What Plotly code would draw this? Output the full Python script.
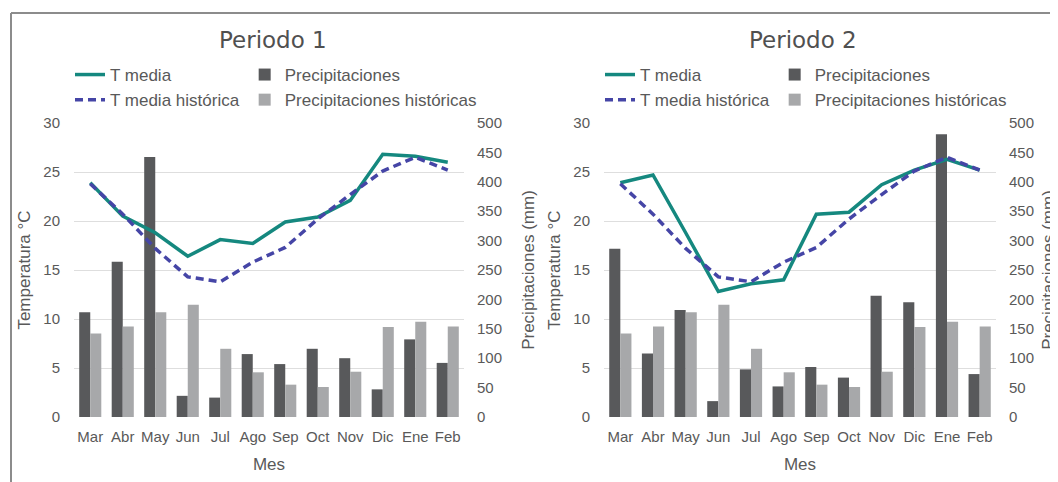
import plotly.graph_objects as go

# Datos
meses = ["Mar", "Abr", "May", "Jun", "Jul", "Ago", "Sep", "Oct", "Nov", "Dic", "Ene", "Feb"]

t_media_p1 = [23.9, 20.5, 18.8, 16.4, 18.1, 17.7, 19.9, 20.4, 22.1, 26.8, 26.6, 26.0]
t_media_p2 = [23.9, 24.7, 18.8, 12.8, 13.6, 14.0, 20.7, 20.9, 23.7, 25.2, 26.3, 25.2]
t_hist = [23.8, 20.7, 17.2, 14.3, 13.8, 15.8, 17.3, 20.2, 22.7, 25.1, 26.5, 25.2]

prec_p1 = [178, 264, 442, 36, 33, 107, 90, 116, 100, 47, 132, 92]
prec_p2 = [286, 108, 182, 27, 81, 52, 85, 67, 206, 195, 481, 73]
prec_hist = [142, 154, 178, 191, 116, 76, 55, 51, 77, 153, 162, 154]

titulos = ["Periodo 1", "Periodo 2"]

# the page body has an 8px margin, so the figure is 8px smaller and positions are shifted
OFF = 8
W, H = 1058 - OFF, 482 - OFF
L, T = 74 - OFF, 123 - OFF
R = W - (996 - OFF)
B = H - (417 - OFF)
pw = W - L - R
ph = H - T - B


def px_x(p):
    # page pixel -> paper x
    return (p - OFF - L) / pw


def px_y(p):
    # page pixel -> paper y
    return (H - B - (p - OFF)) / ph


TEAL = "#15887f"
AZUL = "#4545a6"
OSCURO = "#58595b"
CLARO = "#a7a8aa"
TXT = "#595959"
FONT = "Liberation Sans, Arial, sans-serif"

fig = go.Figure()

paneles = [
    (t_media_p1, prec_p1, "x", "y", "y2", "legend"),
    (t_media_p2, prec_p2, "x2", "y3", "y4", "legend2"),
]

for i, (tm, pr, xa, ya_p, ya_t, leg) in enumerate(paneles):
    fig.add_trace(go.Scatter(x=meses, y=tm, name="T media", mode="lines",
                             line=dict(color=TEAL, width=3.5),
                             xaxis=xa, yaxis=ya_t, legend=leg, legendgroup=f"t{i}"))
    fig.add_trace(go.Scatter(x=meses, y=t_hist, name="T media histórica", mode="lines",
                             line=dict(color=AZUL, width=3.5, dash="8px,5px"),
                             xaxis=xa, yaxis=ya_t, legend=leg, legendgroup=f"t{i}"))
    fig.add_trace(go.Bar(x=meses, y=pr, name="Precipitaciones", marker_color=OSCURO,
                         xaxis=xa, yaxis=ya_p, legend=leg, legendgroup=f"p{i}"))
    fig.add_trace(go.Bar(x=meses, y=prec_hist, name="Precipitaciones históricas",
                         marker_color=CLARO,
                         xaxis=xa, yaxis=ya_p, legend=leg, legendgroup=f"p{i}"))

eje_x = dict(showgrid=False, zeroline=False, showline=False, ticks="",
             tickfont=dict(size=15, color=TXT), ticklabelstandoff=9,
             title=dict(text="Mes", font=dict(size=17, color=TXT), standoff=14))
eje_t = dict(range=[0, 30], dtick=5, side="left", showgrid=True, gridcolor="#dedede",
             gridwidth=1, zeroline=False, showline=False, ticks="",
             tickfont=dict(size=15, color=TXT), ticklabelstandoff=13,
             title=dict(text="Temperatura °C", font=dict(size=17, color=TXT), standoff=8))
eje_p = dict(range=[0, 500], dtick=50, side="right", showgrid=False, zeroline=False,
             showline=False, ticks="", tickfont=dict(size=15, color=TXT),
             ticklabelstandoff=12,
             title=dict(text="Precipitaciones (mm)", font=dict(size=17, color=TXT), standoff=21))

fig.update_layout(
    width=W, height=H,
    template="none",
    paper_bgcolor="#fff", plot_bgcolor="#fff",
    font=dict(family=FONT, color=TXT),
    margin=dict(l=L, r=R, t=T, b=B),
    barmode="group", bargap=0.32, bargroupgap=0,
    showlegend=True,
    xaxis=dict(eje_x, domain=[0, px_x(464)], anchor="y"),
    yaxis=dict(eje_p, anchor="x"),
    yaxis2=dict(eje_t, overlaying="y", anchor="x"),
    xaxis2=dict(eje_x, domain=[px_x(604), 1], anchor="y3"),
    yaxis3=dict(eje_p, anchor="x2"),
    yaxis4=dict(eje_t, overlaying="y3", anchor="x2"),
    legend=dict(orientation="h", traceorder="grouped", x=px_x(70), y=px_y(57),
                xanchor="left", yanchor="top", bgcolor="rgba(0,0,0,0)",
                font=dict(size=17, color=TXT), itemwidth=30, tracegroupgap=0),
    legend2=dict(orientation="h", traceorder="grouped", x=px_x(600), y=px_y(57),
                 xanchor="left", yanchor="top", bgcolor="rgba(0,0,0,0)",
                 font=dict(size=17, color=TXT), itemwidth=30, tracegroupgap=0),
)

for txt, cx in zip(titulos, [273, 803]):
    fig.add_annotation(text=txt, x=px_x(cx), y=px_y(40), xref="paper", yref="paper",
                       xanchor="center", yanchor="middle", showarrow=False,
                       font=dict(family="DejaVu Sans, Verdana, sans-serif", size=23,
                                 color="#505050"))

# marco gris
fig.add_shape(type="line", xref="paper", yref="paper", x0=px_x(11), x1=px_x(11),
              y0=px_y(13), y1=px_y(490), line=dict(color="#8c8c8c", width=2))
fig.add_shape(type="line", xref="paper", yref="paper", x0=px_x(11), x1=px_x(1070),
              y0=px_y(13), y1=px_y(13), line=dict(color="#8c8c8c", width=2))

fig.write_html("out.html")
